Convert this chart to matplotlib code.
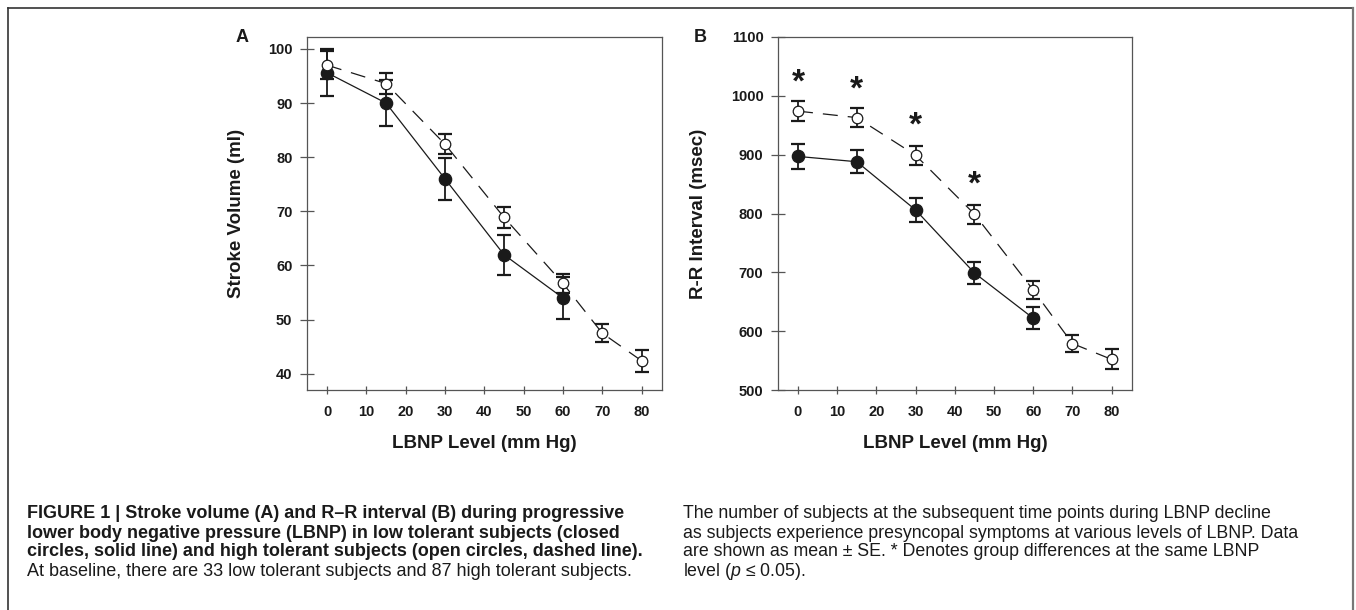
import matplotlib
matplotlib.use("Agg")
import matplotlib.pyplot as plt
from matplotlib.lines import Line2D
from matplotlib.transforms import offset_copy

# --- data ---
lbnp_low = [0, 15, 30, 45, 60]
lbnp_high = [0, 15, 30, 45, 60, 70, 80]

sv_low = [95.6, 90.0, 76.0, 62.0, 54.0]
sv_low_se = [4.3, 4.3, 3.9, 3.7, 3.8]
sv_high = [97.0, 93.6, 82.4, 68.9, 56.7, 47.5, 42.4]
sv_high_se = [2.6, 2.0, 1.8, 1.9, 1.8, 1.7, 2.0]

rr_low = [897, 888, 806, 699, 622]
rr_low_se = [21, 20, 21, 18, 19]
rr_high = [974, 963, 899, 799, 670, 579, 552]
rr_high_se = [17, 16, 16, 16, 15, 14, 17]

star_x = [0, 15, 30, 45]
star_y = [1033, 1022, 961, 860]

x_ticks = [0, 10, 20, 30, 40, 50, 60, 70, 80]
sv_ticks = [40, 50, 60, 70, 80, 90, 100]
rr_ticks = [500, 600, 700, 800, 900, 1000, 1100]

caption_left = [
    "FIGURE 1 | Stroke volume (A) and R\u2013R interval (B) during progressive",
    "lower body negative pressure (LBNP) in low tolerant subjects (closed",
    "circles, solid line) and high tolerant subjects (open circles, dashed line).",
    "At baseline, there are 33 low tolerant subjects and 87 high tolerant subjects.",
]
caption_right = [
    "The number of subjects at the subsequent time points during LBNP decline",
    "as subjects experience presyncopal symptoms at various levels of LBNP. Data",
    "are shown as mean \u00b1 SE. * Denotes group differences at the same LBNP",
    "level ($\\mathit{p}$ \u2264 0.05).",
]

plt.rcParams["font.family"] = ["Liberation Sans", "DejaVu Sans"]
plt.rcParams["mathtext.fontset"] = "custom"
plt.rcParams["mathtext.it"] = "Liberation Sans:italic"
plt.rcParams["mathtext.rm"] = "Liberation Sans"

W, H = 1356, 610
fig = plt.figure(figsize=(W / 100, H / 100), dpi=100)

INK = "#1a1a1a"
SPINE = "#555555"


def fx(px):
    return px / W


def fy(py):
    return (H - py) / H


def panel(rect, xs_lo, lo, lo_se, xs_hi, hi, hi_se, ylim, yticks, ylabel, label_x):
    ax = fig.add_axes(rect)
    ax.errorbar(xs_lo, lo, yerr=lo_se, fmt="none", ecolor=INK, elinewidth=1.3,
                capsize=5, capthick=1.6, zorder=2)
    ax.errorbar(xs_hi, hi, yerr=hi_se, fmt="none", ecolor=INK, elinewidth=1.3,
                capsize=5, capthick=1.6, zorder=2)
    ax.plot(xs_lo, lo, "-", color=INK, lw=0.9, zorder=3)
    ax.plot(xs_hi, hi, "-", color=INK, lw=0.9, dashes=(12, 8), zorder=3)
    ax.plot(xs_lo, lo, "o", ms=8.8, mfc=INK, mec=INK, ls="none", zorder=4)
    ax.plot(xs_hi, hi, "o", ms=7.6, mfc="white", mec=INK, mew=0.9, ls="none", zorder=4)

    ax.set_xlim(-5.1, 85.2)
    ax.set_ylim(*ylim)
    ax.set_xticks(x_ticks)
    ax.set_yticks(yticks)
    for s in ax.spines.values():
        s.set_color(SPINE)
        s.set_linewidth(0.9)
    ax.tick_params(axis="y", direction="inout", length=10, width=0.9, color=SPINE,
                   pad=5.5, labelsize=10.5, labelcolor=INK)
    ax.tick_params(axis="x", direction="inout", length=6, width=0.9, color=SPINE,
                   pad=7.5, labelsize=10.5, labelcolor=INK)
    for t in ax.get_xticklabels() + ax.get_yticklabels():
        t.set_fontweight("bold")
    ax.set_ylabel(ylabel, fontsize=13.5, fontweight="bold", color=INK)
    ax.yaxis.set_label_coords(label_x, 0.5)
    ax.set_xlabel("LBNP Level (mm Hg)", fontsize=13.5, fontweight="bold", color=INK)
    ax.xaxis.set_label_coords(0.5, -0.127)
    return ax


axA = panel([fx(307), fy(390), fx(662) - fx(307), fy(37) - fy(390)],
            lbnp_low, sv_low, sv_low_se, lbnp_high, sv_high, sv_high_se,
            (37, 102.2), sv_ticks, "Stroke Volume (ml)", -0.175)
axB = panel([fx(778), fy(390), fx(1132) - fx(778), fy(37) - fy(390)],
            lbnp_low, rr_low, rr_low_se, lbnp_high, rr_high, rr_high_se,
            (500, 1100), rr_ticks, "R-R Interval (msec)", -0.20)

# the asterisk glyph sits high in its box, nudge it down a little
star_tr = offset_copy(axB.transData, fig=fig, y=-5, units="points")
for sx, sy in zip(star_x, star_y):
    axB.text(sx, sy, "*", ha="center", va="center", fontsize=24,
             fontweight="bold", color=INK, transform=star_tr)

fig.text(fx(242), fy(37), "A", ha="center", va="center", fontsize=13,
         fontweight="bold", color=INK)
fig.text(fx(700), fy(37), "B", ha="center", va="center", fontsize=13,
         fontweight="bold", color=INK)

# caption, two columns
line_y = [513, 533, 552, 572]
for i, (txt, yy) in enumerate(zip(caption_left, line_y)):
    fig.text(fx(27), fy(yy), txt, ha="left", va="center", fontsize=13,
             fontweight="bold" if i < 3 else "normal", color=INK)
for txt, yy in zip(caption_right, line_y):
    fig.text(fx(683), fy(yy), txt, ha="left", va="center", fontsize=12.8,
             color=INK)

# outer frame (open at the bottom)
fig.add_artist(Line2D([fx(8), fx(8)], [fy(8), 0], color="#333333", lw=1.2))
fig.add_artist(Line2D([fx(8), fx(1353)], [fy(8), fy(8)], color="#333333", lw=1.2))
fig.add_artist(Line2D([fx(1353), fx(1353)], [fy(8), 0], color="#777777", lw=1.6))

fig.savefig("out.png", dpi=100)
